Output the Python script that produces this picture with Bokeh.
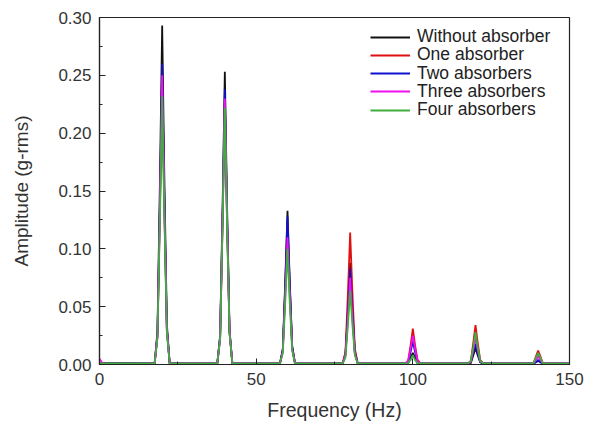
from bokeh.plotting import figure
from bokeh.models import Legend, LegendItem, Range1d, FixedTicker
from bokeh.embed import file_html
from bokeh.resources import INLINE

# Frequency grid (Hz)
freq = [0, 1, 2,
        17.6, 18.5, 19.3, 20, 20.7, 21.5, 22.4, 30,
        37.6, 38.5, 39.3, 40, 40.7, 41.5, 42.4, 50,
        57.6, 58.5, 59.3, 60, 60.7, 61.5, 62.4, 70,
        77.6, 78.5, 79.3, 80, 80.7, 81.5, 82.4, 90,
        97.6, 98.5, 99.3, 100, 100.7, 101.5, 102.4, 110,
        117.6, 118.5, 119.3, 120, 120.7, 121.5, 122.4, 130,
        137.6, 138.5, 139.3, 140, 140.7, 141.5, 142.4, 150]

without_absorber = [0.001, 0.001, 0.001,
    0.001, 0.029, 0.161, 0.293, 0.161, 0.035, 0.001, 0.001,
    0.001, 0.025, 0.139, 0.253, 0.139, 0.030, 0.001, 0.001,
    0.001, 0.013, 0.073, 0.133, 0.073, 0.016, 0.001, 0.001,
    0.001, 0.009, 0.048, 0.088, 0.048, 0.011, 0.001, 0.001,
    0.001, 0.001, 0.006, 0.010, 0.006, 0.001, 0.001, 0.001,
    0.001, 0.001, 0.008, 0.014, 0.008, 0.002, 0.001, 0.001,
    0.001, 0.001, 0.002, 0.003, 0.002, 0.001, 0.001, 0.001]

one_absorber = [0.001, 0.001, 0.001,
    0.001, 0.024, 0.134, 0.243, 0.134, 0.029, 0.001, 0.001,
    0.001, 0.023, 0.125, 0.228, 0.125, 0.027, 0.001, 0.001,
    0.001, 0.012, 0.066, 0.120, 0.066, 0.014, 0.001, 0.001,
    0.001, 0.011, 0.063, 0.114, 0.063, 0.014, 0.001, 0.001,
    0.001, 0.003, 0.017, 0.031, 0.017, 0.004, 0.001, 0.001,
    0.001, 0.003, 0.019, 0.034, 0.019, 0.004, 0.001, 0.001,
    0.001, 0.001, 0.007, 0.012, 0.007, 0.001, 0.001, 0.001]

two_absorbers = [0.001, 0.001, 0.001,
    0.001, 0.026, 0.143, 0.260, 0.143, 0.031, 0.001, 0.001,
    0.001, 0.024, 0.131, 0.238, 0.131, 0.029, 0.001, 0.001,
    0.001, 0.013, 0.070, 0.128, 0.070, 0.015, 0.001, 0.001,
    0.001, 0.008, 0.046, 0.083, 0.046, 0.010, 0.001, 0.001,
    0.001, 0.002, 0.011, 0.020, 0.011, 0.002, 0.001, 0.001,
    0.001, 0.002, 0.010, 0.018, 0.010, 0.002, 0.001, 0.001,
    0.001, 0.001, 0.002, 0.004, 0.002, 0.001, 0.001, 0.001]

three_absorbers = [0.005, 0.001, 0.000,
    0.001, 0.025, 0.138, 0.250, 0.138, 0.030, 0.001, 0.001,
    0.001, 0.023, 0.127, 0.230, 0.127, 0.028, 0.001, 0.001,
    0.001, 0.011, 0.061, 0.110, 0.061, 0.013, 0.001, 0.001,
    0.001, 0.008, 0.041, 0.075, 0.041, 0.009, 0.001, 0.001,
    0.001, 0.003, 0.014, 0.025, 0.014, 0.003, 0.001, 0.001,
    0.001, 0.002, 0.013, 0.024, 0.013, 0.003, 0.001, 0.001,
    0.001, 0.001, 0.004, 0.007, 0.004, 0.001, 0.001, 0.001]

four_absorbers = [0.001, 0.001, 0.001,
    0.001, 0.023, 0.128, 0.232, 0.128, 0.028, 0.001, 0.001,
    0.001, 0.022, 0.122, 0.222, 0.122, 0.027, 0.001, 0.001,
    0.001, 0.010, 0.055, 0.100, 0.055, 0.012, 0.001, 0.001,
    0.001, 0.006, 0.035, 0.064, 0.035, 0.008, 0.001, 0.001,
    0.001, 0.001, 0.004, 0.008, 0.004, 0.001, 0.001, 0.001,
    0.001, 0.003, 0.015, 0.028, 0.015, 0.003, 0.001, 0.001,
    0.001, 0.001, 0.006, 0.010, 0.006, 0.001, 0.001, 0.001]

series_names = ["Without absorber", "One absorber", "Two absorbers",
                "Three absorbers", "Four absorbers"]
series_values = [without_absorber, one_absorber, two_absorbers,
                 three_absorbers, four_absorbers]
series_colors = ["#111111", "#e01010", "#1010d0", "#f010f0", "#3fae3f"]

x_ticks = [0, 50, 100, 150]
y_ticks = [0.00, 0.05, 0.10, 0.15, 0.20, 0.25, 0.30]

FONT = "Liberation Sans"

p = figure(frame_width=470, frame_height=347,
           min_border_left=99, min_border_right=22,
           min_border_top=17, min_border_bottom=61,
           x_range=Range1d(0, 150), y_range=Range1d(0, 0.30),
           output_backend="svg", toolbar_location=None)

p.xgrid.visible = False
p.ygrid.visible = False
p.outline_line_color = "#222222"
p.outline_line_width = 1.2
p.background_fill_color = "white"
p.border_fill_color = "white"

renderers = []
for name, vals, col in zip(series_names, series_values, series_colors):
    r = p.line(freq, vals, line_color=col, line_width=1.8)
    renderers.append(r)

for ax in (p.xaxis[0], p.yaxis[0]):
    ax.axis_line_color = "#222222"
    ax.axis_line_width = 1.2
    ax.major_tick_in = 6
    ax.major_tick_out = 0
    ax.minor_tick_in = 3
    ax.minor_tick_out = 0
    ax.major_tick_line_color = "#222222"
    ax.minor_tick_line_color = "#222222"
    ax.major_label_text_font = FONT
    ax.major_label_text_font_size = "17px"
    ax.major_label_text_color = "#333333"
    ax.axis_label_text_font = FONT
    ax.axis_label_text_font_style = "normal"
    ax.axis_label_text_color = "#333333"
    ax.major_label_standoff = 8

p.xaxis[0].axis_label_text_font_size = "19.5px"
p.yaxis[0].axis_label_text_font_size = "19px"
p.xaxis[0].ticker = FixedTicker(ticks=x_ticks, minor_ticks=[25, 75, 125])
p.yaxis[0].ticker = FixedTicker(ticks=y_ticks,
                                minor_ticks=[0.025, 0.075, 0.125, 0.175, 0.225, 0.275])
p.xaxis[0].major_label_overrides = {t: str(t) for t in x_ticks}
p.yaxis[0].major_label_overrides = {t: f"{t:.2f}" for t in y_ticks}
p.xaxis[0].axis_label = "Frequency (Hz)"
p.yaxis[0].axis_label = "Amplitude (g-rms)"
p.xaxis[0].axis_label_standoff = 11
p.yaxis[0].axis_label_standoff = 23

# one legend per row, to reproduce the tight row spacing of the reference
for i, (name, r) in enumerate(zip(series_names, renderers)):
    lg = Legend(items=[LegendItem(label=name, renderers=[r])],
                location=(271, 317 - 18.25 * i),
                glyph_width=40, glyph_height=20, label_height=20,
                label_standoff=7, spacing=0, padding=0, margin=0,
                label_text_font=FONT, label_text_font_size="17.5px",
                label_text_color="#222222",
                border_line_alpha=0, background_fill_alpha=0)
    p.add_layout(lg)

open("out.html", "w").write(file_html(p, INLINE))
